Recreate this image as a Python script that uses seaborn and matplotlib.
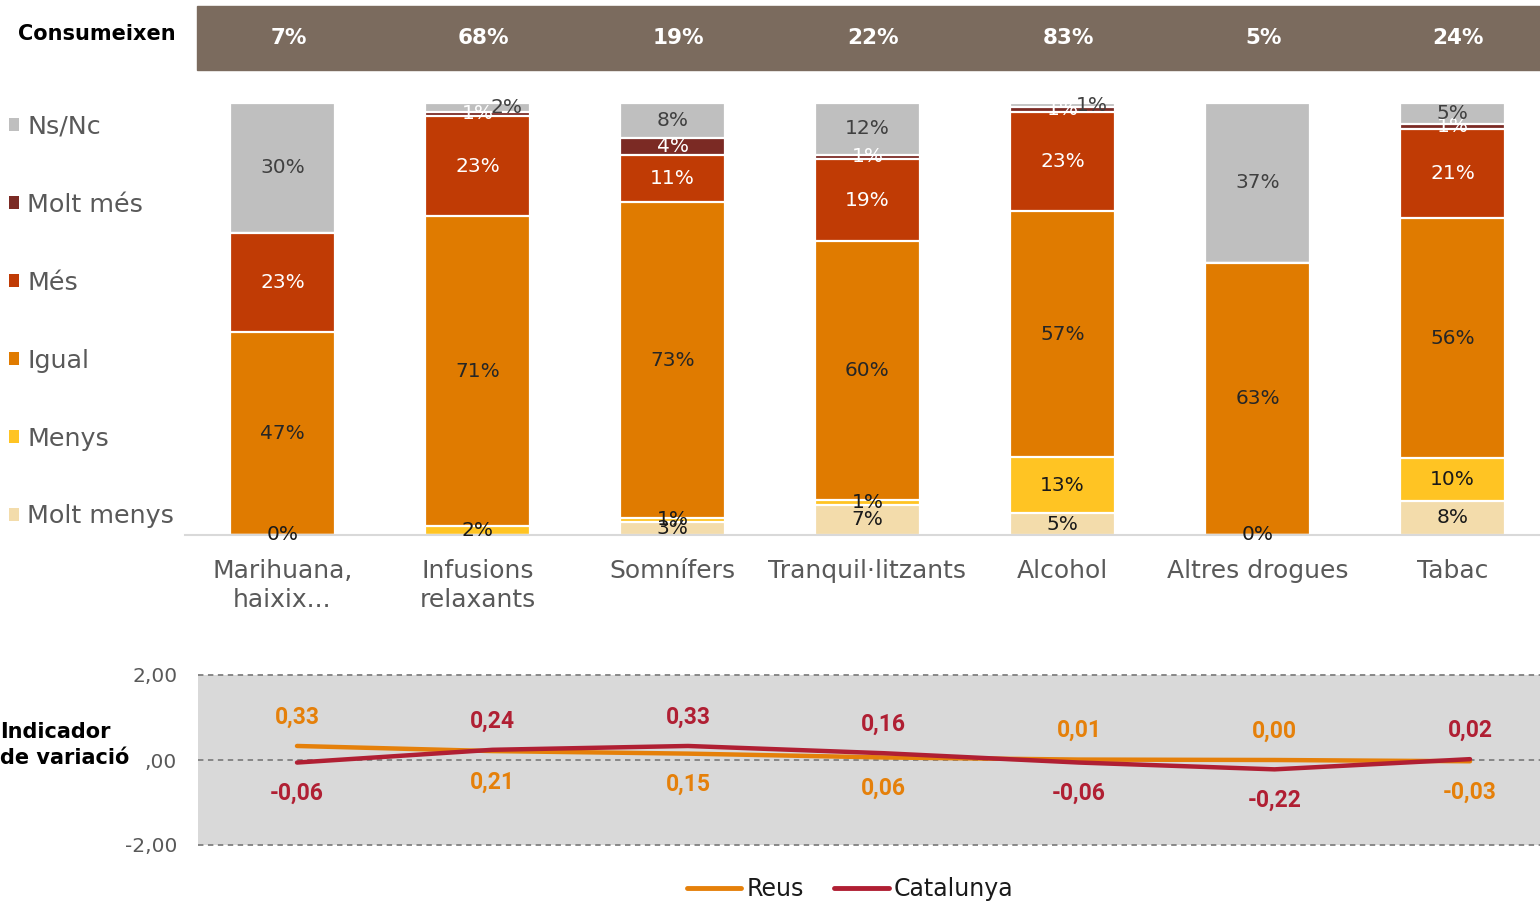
"""
Canvi en el consum de substàncies - barres apilades + indicador de variació
"""

import numpy as np
import pandas as pd
import matplotlib
matplotlib.use("Agg")
import matplotlib.pyplot as plt
import matplotlib.transforms as mtransforms
from matplotlib.patches import Patch, Rectangle
from matplotlib.lines import Line2D
from matplotlib.ticker import FixedLocator
import seaborn as sns

# ─── Data ───────────────────────────────────────────────────────────────────
categories = ["Marihuana,\nhaixix...", "Infusions\nrelaxants", "Somnífers",
              "Tranquil·litzants", "Alcohol", "Altres drogues", "Tabac"]
consumeixen = ["7%", "68%", "19%", "22%", "83%", "5%", "24%"]

nan = np.nan
molt_menys = [0, nan, 3, 7, 5, 0, 8]
menys      = [nan, 2, 1, 1, 13, nan, 10]
igual      = [47, 71, 73, 60, 57, 63, 56]
mes        = [23, 23, 11, 19, 23, nan, 21]
molt_mes   = [nan, 1, 4, 1, 1, nan, 1]
ns_nc      = [30, 2, 8, 12, 1, 37, 5]

levels = ["Molt menys", "Menys", "Igual", "Més", "Molt més", "Ns/Nc"]

reus      = [0.33, 0.21, 0.15, 0.06, 0.01, 0.00, -0.03]
catalunya = [-0.06, 0.24, 0.33, 0.16, -0.06, -0.22, 0.02]
var_ticks = [-2, 0, 2]
var_tick_labels = ["-2,00", ",00", "2,00"]

# ─── Style ──────────────────────────────────────────────────────────────────
COLORS = {
    "Molt menys": "#F3DCAB",
    "Menys":      "#FFC423",
    "Igual":      "#E07B00",
    "Més":        "#C03B05",
    "Molt més":   "#7B2A24",
    "Ns/Nc":      "#BFBFBF",
}
LABEL_COLORS = {
    "Molt menys": "#1a1a1a",
    "Menys":      "#1a1a1a",
    "Igual":      "#262626",
    "Més":        "white",
    "Molt més":   "white",
    "Ns/Nc":      "#404040",
}
HEADER = "#7B6B5E"
GREY_TXT = "#595959"
REUS_C = "#E5800A"
CAT_C = "#B01F33"

sns.set_style("white")
plt.rcParams["font.family"] = ["DejaVu Sans"]

W, H = 1540, 908
fig = plt.figure(figsize=(W / 100, H / 100), dpi=100)

def fx(px):
    return px / W

def fy(py):
    return 1 - py / H

# ─── Stacked bars ───────────────────────────────────────────────────────────
df = pd.DataFrame({"cat": categories, "Molt menys": molt_menys, "Menys": menys,
                   "Igual": igual, "Més": mes, "Molt més": molt_mes, "Ns/Nc": ns_nc})
vals = df[levels].fillna(0)
share = vals.div(vals.sum(axis=1), axis=0) * 100
cum = share.cumsum(axis=1)

ax = fig.add_axes([fx(185), fy(535), fx(1365), (535 - 103) / H])
# draw cumulative heights from the top level down, so each level overlays the next
for lvl in reversed(levels):
    sns.barplot(x=df["cat"], y=cum[lvl], color=COLORS[lvl], width=0.54, saturation=1,
                edgecolor="white", linewidth=1.6, errorbar=None, ax=ax)

for i in range(len(categories)):
    for lvl in levels:
        v = df.loc[i, lvl]
        if pd.isna(v):
            continue
        yc = cum.loc[i, lvl] - share.loc[i, lvl] / 2
        dx = 0.15 if (lvl == "Ns/Nc" and v <= 2) else 0
        ax.text(i + dx, yc, f"{v:.0f}%", ha="center", va="center",
                fontsize=14.5, color=LABEL_COLORS[lvl])

ax.set_xlim(-0.5, 6.5)
ax.set_ylim(0, 100)
ax.set_xlabel("")
ax.set_ylabel("")
ax.set_yticks([])
for side in ["top", "right", "left"]:
    ax.spines[side].set_visible(False)
ax.spines["bottom"].set_color("#D9D9D9")
ax.spines["bottom"].set_linewidth(1.5)
ax.set_xticks(range(len(categories)))
ax.set_xticklabels(categories, fontsize=18, color=GREY_TXT, linespacing=1.3)
ax.tick_params(axis="x", which="major", length=0, pad=17)
ax.set_xticks(np.arange(-0.5, 7, 1), minor=True)
ax.tick_params(axis="x", which="minor", length=8, width=1.5, color="#D9D9D9")

# ─── Header band ("Consumeixen") ────────────────────────────────────────────
fig.patches.append(Rectangle((fx(197), fy(70)), 1 - fx(197), 64 / H,
                             transform=fig.transFigure, color=HEADER, zorder=-1))
fig.text(fx(18), fy(34), "Consumeixen", fontsize=15, fontweight="bold",
         color="black", ha="left", va="center")
blend = mtransforms.blended_transform_factory(ax.transData, fig.transFigure)
for i, txt in enumerate(consumeixen):
    ax.text(i + 0.03, fy(38), txt, transform=blend, ha="center", va="center",
            fontsize=15.5, fontweight="bold", color="white", clip_on=False)

# ─── Left legend ────────────────────────────────────────────────────────────
handles = [Patch(facecolor=COLORS[l], edgecolor="none") for l in reversed(levels)]
fig.legend(handles, list(reversed(levels)), loc="upper left",
           bbox_to_anchor=(fx(9), fy(115)), frameon=False, fontsize=18.3,
           labelcolor=GREY_TXT, handlelength=0.4, handleheight=0.4,
           handletextpad=0.32, labelspacing=2.12, borderpad=0, borderaxespad=0)

# ─── Variation indicator lines ──────────────────────────────────────────────
ax2 = fig.add_axes([fx(198), fy(845), 1 - fx(198), 170 / H])
ax2.set_facecolor("#D9D9D9")
xs = np.arange(len(categories))
sns.lineplot(x=xs, y=reus, color=REUS_C, lw=3.2, ax=ax2)
sns.lineplot(x=xs, y=catalunya, color=CAT_C, lw=3.2, ax=ax2)

for i in xs:
    r, c = reus[i], catalunya[i]
    for v, col, top in [(r, REUS_C, r >= c), (c, CAT_C, c > r)]:
        off = 29 if top else -31
        ax2.annotate(f"{v:.2f}".replace(".", ","), (i, v), xytext=(0, off),
                     textcoords="offset pixels", ha="center", va="center",
                     fontsize=16.5, fontweight="bold", color=col, family="Roboto")

ax2.set_xlim(-(297 - 198) / 195.5, 6 + (1540 - 1470) / 195.5)
ax2.set_ylim(-2, 2)
ax2.yaxis.set_major_locator(FixedLocator(var_ticks))
ax2.set_yticklabels(var_tick_labels, fontsize=14.5, color=GREY_TXT)
ax2.tick_params(axis="y", length=0, pad=15)
ax2.set_xticks([])
for t in var_ticks:
    ax2.axhline(t, color="#808080", lw=1.3, ls=(0, (3, 2.5)), clip_on=False, zorder=1)
for sp in ax2.spines.values():
    sp.set_visible(False)
ax2.set_xlabel("")
ax2.set_ylabel("")

fig.text(fx(0), fy(745), "Indicador\nde variació", fontsize=15, fontweight="bold",
         color="black", ha="left", va="center", linespacing=1.4)

fig.legend([Line2D([], [], color=REUS_C, lw=3.5), Line2D([], [], color=CAT_C, lw=3.5)],
           ["Reus", "Catalunya"], loc="center", bbox_to_anchor=(fx(850), fy(889)),
           ncol=2, frameon=False, fontsize=17, labelcolor="#1a1a1a",
           handlelength=2.3, handletextpad=0.2, columnspacing=1.3)

fig.savefig("out.png", dpi=100)
plt.close(fig)
